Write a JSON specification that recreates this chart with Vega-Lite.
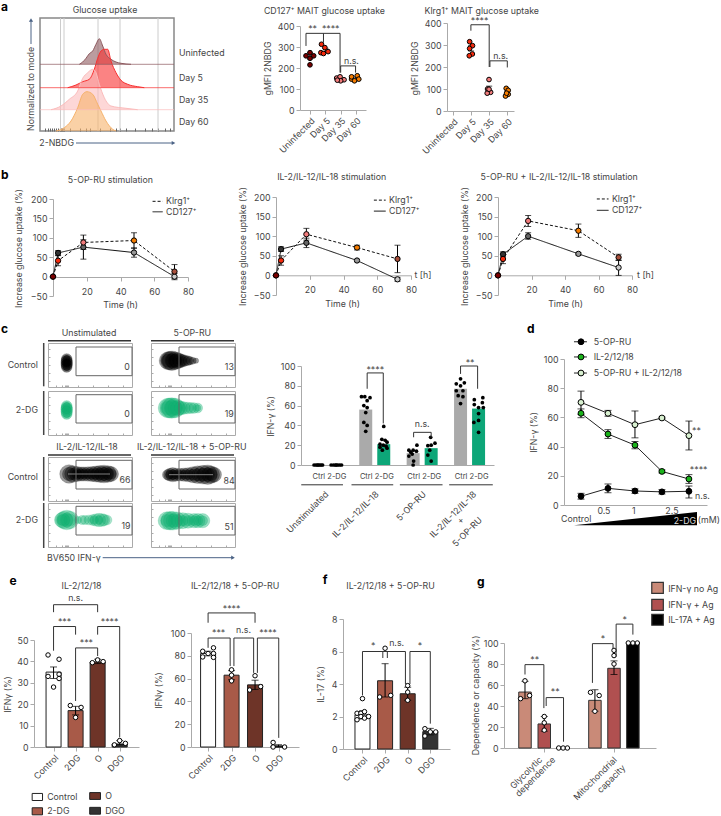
{"$schema":"https://vega.github.io/schema/vega-lite/v6.json","padding":0,"background":"white","bounds":"flush","spacing":0,
"config":{"view":{"stroke":null},"axis":{"grid":false,"domainColor":"#aaa","tickColor":"#aaa","labelColor":"#444","titleColor":"#444","labelFont":"Inter","titleFont":"Inter","labelFontSize":8.8,"titleFontSize":8.8,"titleFontWeight":"normal","titleBaseline":"middle","tickSize":4,"labelPadding":2,"labelOverlap":false,"labelFlush":false},"text":{"font":"Inter","fontSize":8.8,"color":"#444"}},
"vconcat":[
{"hconcat":[{"width":39,"height":1,"data":{"values":[]},"mark":"point","encoding":{}},{"vconcat":[{"width":1,"height":17,"data":{"values":[]},"mark":"point","encoding":{}},
{"width":134,"height":113,"view":{"stroke":"#888","strokeWidth":1.5},
"encoding":{"x":{"field":"x","type":"quantitative","scale":{"domain":[0,134],"nice":false,"zero":false},"axis":{"title":null,"labels":false,"domain":false,"tickSize":-3,"tickColor":"#666","values":[5,8,10,12,14,16,18,20,21,22,23,24,30,40,46,50,60,70,76,80,86,95,105,112,118,125,130]}},"y":{"field":"y","type":"quantitative","scale":{"domain":[0,113],"nice":false,"zero":false},"axis":null}},
"layer":[
{"data":{"values":[{"x":20.5,"y":0,"y2":113},{"x":24,"y":0,"y2":113},{"x":58,"y":0,"y2":113},{"x":80,"y":0,"y2":113},{"x":118,"y":0,"y2":113}]},"mark":{"type":"rule","color":"#ccc","strokeWidth":1},"encoding":{"y2":{"field":"y2"}}},
{"data":{"name":"hist","values":[
{"s":"Uninfected","x":39.3,"y":66.7,"y2":66.7},{"s":"Uninfected","x":42.7,"y":69,"y2":66.7},{"s":"Uninfected","x":46,"y":72.7,"y2":66.7},{"s":"Uninfected","x":49.3,"y":77.3,"y2":66.7},{"s":"Uninfected","x":52.7,"y":80,"y2":66.7},{"s":"Uninfected","x":56,"y":86.7,"y2":66.7},{"s":"Uninfected","x":59.3,"y":92.3,"y2":66.7},{"s":"Uninfected","x":62.7,"y":85,"y2":66.7},{"s":"Uninfected","x":66,"y":76.7,"y2":66.7},{"s":"Uninfected","x":71,"y":71.7,"y2":66.7},{"s":"Uninfected","x":76,"y":69,"y2":66.7},{"s":"Uninfected","x":81,"y":67.7,"y2":66.7},{"s":"Uninfected","x":91,"y":66.7,"y2":66.7},
{"s":"Day 5","x":27.7,"y":43.3,"y2":43.3},{"s":"Day 5","x":36,"y":46,"y2":43.3},{"s":"Day 5","x":42.7,"y":49.3,"y2":43.3},{"s":"Day 5","x":49.3,"y":51.7,"y2":43.3},{"s":"Day 5","x":54.3,"y":61.7,"y2":43.3},{"s":"Day 5","x":57.7,"y":72.7,"y2":43.3},{"s":"Day 5","x":61,"y":80,"y2":43.3},{"s":"Day 5","x":64.3,"y":81.7,"y2":43.3},{"s":"Day 5","x":67.7,"y":81.7,"y2":43.3},{"s":"Day 5","x":71,"y":70,"y2":43.3},{"s":"Day 5","x":76,"y":58.3,"y2":43.3},{"s":"Day 5","x":81,"y":50.7,"y2":43.3},{"s":"Day 5","x":87.7,"y":46.7,"y2":43.3},{"s":"Day 5","x":97.7,"y":44.3,"y2":43.3},{"s":"Day 5","x":104.3,"y":43.3,"y2":43.3},
{"s":"Day 35","x":11,"y":21.3,"y2":21.3},{"s":"Day 35","x":21,"y":25,"y2":21.3},{"s":"Day 35","x":29.3,"y":31.7,"y2":21.3},{"s":"Day 35","x":37.7,"y":40,"y2":21.3},{"s":"Day 35","x":42.7,"y":52.7,"y2":21.3},{"s":"Day 35","x":47.7,"y":58.3,"y2":21.3},{"s":"Day 35","x":52.7,"y":61.7,"y2":21.3},{"s":"Day 35","x":56,"y":58.3,"y2":21.3},{"s":"Day 35","x":59.3,"y":46.7,"y2":21.3},{"s":"Day 35","x":64.3,"y":33.3,"y2":21.3},{"s":"Day 35","x":71,"y":25,"y2":21.3},{"s":"Day 35","x":86,"y":22.7,"y2":21.3},{"s":"Day 35","x":97.7,"y":21.3,"y2":21.3},
{"s":"Day 60","x":16,"y":0,"y2":0},{"s":"Day 60","x":24.3,"y":3.3,"y2":0},{"s":"Day 60","x":31,"y":10,"y2":0},{"s":"Day 60","x":37.7,"y":23.3,"y2":0},{"s":"Day 60","x":42.7,"y":36.7,"y2":0},{"s":"Day 60","x":47,"y":39.3,"y2":0},{"s":"Day 60","x":52.7,"y":36.7,"y2":0},{"s":"Day 60","x":57.7,"y":26.7,"y2":0},{"s":"Day 60","x":61,"y":20,"y2":0},{"s":"Day 60","x":66,"y":10,"y2":0},{"s":"Day 60","x":72.7,"y":1.7,"y2":0},{"s":"Day 60","x":76,"y":0,"y2":0}]},
"mark":{"type":"area","orient":"vertical","interpolate":"monotone","opacity":0.6},"encoding":{"y2":{"field":"y2"},"color":{"field":"s","type":"nominal","scale":{"domain":["Uninfected","Day 5","Day 35","Day 60"],"range":["#8d5a5f","#f83030","#fbbcbc","#f6b26b"]},"legend":null}}},
{"data":{"name":"hist"},"mark":{"type":"line","interpolate":"monotone","strokeWidth":1},"encoding":{"color":{"field":"s","type":"nominal","legend":null}}},
{"data":{"values":[{"s":"Uninfected","x":0,"x2":134,"y":66.7},{"s":"Day 5","x":0,"x2":134,"y":43.3},{"s":"Day 35","x":0,"x2":134,"y":21.3}]},"mark":{"type":"rule","strokeWidth":1,"opacity":0.7},"encoding":{"x2":{"field":"x2"},"color":{"field":"s","type":"nominal","legend":null}}},
{"data":{"values":[{"x":36,"x2":132.7,"y":-12}]},"mark":{"type":"rule","color":"#4a6285","strokeWidth":1},"encoding":{"x2":{"field":"x2"}}},
{"data":{"values":[{"x":-9,"y":87,"y2":110}]},"mark":{"type":"rule","color":"#4a6285","strokeWidth":1},"encoding":{"y2":{"field":"y2"}}},
{"data":{"values":[{"x":133.5,"y":-12}]},"mark":{"type":"point","shape":"triangle-right","filled":true,"size":18,"color":"#4a6285","opacity":1}},
{"data":{"values":[{"x":-9,"y":111}]},"mark":{"type":"point","shape":"triangle-up","filled":true,"size":18,"color":"#4a6285","opacity":1}},
{"data":{"values":[{"x":65,"y":121,"t":"Glucose uptake"}]},"mark":{"type":"text"},"encoding":{"text":{"field":"t"}}},
{"data":{"values":[{"x":139,"y":78,"t":"Uninfected"},{"x":139,"y":53,"t":"Day 5"},{"x":139,"y":31,"t":"Day 35"},{"x":139,"y":9,"t":"Day 60"},{"x":-0.7,"y":-12,"t":"2-NBDG"}]},"mark":{"type":"text","align":"left"},"encoding":{"text":{"field":"t"}}},
{"data":{"values":[{"x":-9,"y":42,"t":"Normalized to mode"}]},"mark":{"type":"text","angle":270},"encoding":{"text":{"field":"t"}}},
{"data":{"values":[{"x":-39,"y":124,"t":"a"}]},"mark":{"type":"text","align":"left","fontSize":12,"fontWeight":"bold","color":"#000"},"encoding":{"text":{"field":"t"}}}
]}],"spacing":0,"bounds":"flush"}],"spacing":0,"bounds":"flush"},

{"hconcat":[{"width":299,"height":1,"data":{"values":[]},"mark":"point","encoding":{}},{"vconcat":[{"width":1,"height":25,"data":{"values":[]},"mark":"point","encoding":{}},
{"width":66,"height":84,
"encoding":{"x":{"field":"x","type":"quantitative","scale":{"domain":[-0.65,3.65],"nice":false,"zero":false},"axis":{"title":null,"values":[0,1,2,3],"labelExpr":"['Uninfected','Day 5','Day 35','Day 60'][datum.value]","labelAngle":-45,"labelAlign":"right","labelBaseline":"top"}},"y":{"field":"y","type":"quantitative","scale":{"domain":[0,400],"nice":false,"zero":false},"axis":{"title":"gMFI 2NBDG","titleX":-33,"titleY":42,"values":[0,100,200,300,400]}}},
"layer":[
{"data":{"values":[{"x":0,"lo":243,"hi":273},{"x":1,"lo":278,"hi":294},{"x":2,"lo":143,"hi":151},{"x":3,"lo":147,"hi":157}]},"mark":{"type":"errorbar","ticks":{"size":6,"color":"#000"},"rule":{"color":"#000","strokeWidth":1}},"encoding":{"y":{"field":"lo","type":"quantitative"},"y2":{"field":"hi"}}},
{"data":{"values":[{"x":-0.26,"y":258,"g":"U"},{"x":0.24,"y":258,"g":"U"},{"x":0,"y":273,"g":"U"},{"x":0,"y":246,"g":"U"},{"x":0,"y":215,"g":"U"},{"x":0.75,"y":313,"g":"D5"},{"x":0.97,"y":297,"g":"D5"},{"x":0.71,"y":273,"g":"D5"},{"x":1.18,"y":278,"g":"D5"},{"x":0.88,"y":269,"g":"D5"},{"x":1.74,"y":152,"g":"D35"},{"x":1.96,"y":158,"g":"D35"},{"x":2.22,"y":144,"g":"D35"},{"x":2.0,"y":139,"g":"D35"},{"x":1.78,"y":142,"g":"D35"},{"x":2.71,"y":147,"g":"D60"},{"x":3.08,"y":163,"g":"D60"},{"x":3.18,"y":147,"g":"D60"},{"x":2.71,"y":158,"g":"D60"},{"x":2.9,"y":139,"g":"D60"}]},"mark":{"type":"point","filled":true,"stroke":"#000","strokeWidth":1,"size":22,"opacity":1},"encoding":{"fill":{"field":"g","type":"nominal","scale":{"domain":["U","D5","D35","D60","T0","K3","K18","K48","K72","C3","C18","C48","C72","cC","cD","A","B","C","Control","2-DG","O","DGO","GA","GB","GC"],"range":["#7b0000","#f52a0c","#f27b7b","#f57c00","#7b0000","#f52a0c","#f27b7b","#f57c00","#a8503c","#333333","#666666","#999999","#cccccc","#aaaaaa","#0da678","#000000","#1ab21a","#d8f0d0","#ffffff","#a85a48","#6e3428","#333333","#c98a78","#b05050","#000000"]},"legend":null}}},
{"data":{"values":[{"b":1,"o":1,"x":-0.26,"y":305},{"b":1,"o":2,"x":-0.26,"y":365},{"b":1,"o":3,"x":1.96,"y":365},{"b":1,"o":4,"x":1.96,"y":178},{"b":2,"o":1,"x":0.88,"y":365},{"b":2,"o":2,"x":0.88,"y":321},{"b":3,"o":1,"x":2.0,"y":178},{"b":3,"o":2,"x":2.0,"y":210},{"b":3,"o":3,"x":2.97,"y":210},{"b":3,"o":4,"x":2.97,"y":178}]},"mark":{"type":"line","color":"#333","strokeWidth":1},"encoding":{"detail":{"field":"b","type":"nominal"},"order":{"field":"o","type":"quantitative"}}},
{"data":{"values":[{"x":0.17,"y":385,"t":"**"},{"x":1.35,"y":385,"t":"****"},{"x":2.7,"y":232,"t":"n.s."},{"x":0.94,"y":473,"t":"CD127⁺ MAIT glucose uptake"}]},"mark":{"type":"text"},"encoding":{"text":{"field":"t"}}}
]}],"spacing":0,"bounds":"flush"}],"spacing":0,"bounds":"flush"},

{"hconcat":[{"width":446,"height":1,"data":{"values":[]},"mark":"point","encoding":{}},{"vconcat":[{"width":1,"height":22,"data":{"values":[]},"mark":"point","encoding":{}},
{"width":67,"height":88,
"encoding":{"x":{"field":"x","type":"quantitative","scale":{"domain":[-0.33,3.37],"nice":false,"zero":false},"axis":{"title":null,"values":[0,1,2,3],"labelExpr":"['Uninfected','Day 5','Day 35','Day 60'][datum.value]","labelAngle":-45,"labelAlign":"right","labelBaseline":"top"}},"y":{"field":"y","type":"quantitative","scale":{"domain":[0,400],"nice":false,"zero":false},"axis":{"title":"gMFI 2NBDG","titleX":-33,"titleY":45,"values":[0,100,200,300,400]}}},
"layer":[
{"data":{"values":[{"x":1,"lo":273,"hi":297},{"x":2,"lo":91,"hi":113},{"x":3,"lo":77,"hi":91}]},"mark":{"type":"errorbar","ticks":{"size":6,"color":"#000"},"rule":{"color":"#000","strokeWidth":1}},"encoding":{"y":{"field":"lo","type":"quantitative"},"y2":{"field":"hi"}}},
{"data":{"values":[{"x":0.92,"y":315,"g":"D5"},{"x":1.08,"y":297,"g":"D5"},{"x":0.92,"y":284,"g":"D5"},{"x":1.07,"y":259,"g":"D5"},{"x":0.9,"y":251,"g":"D5"},{"x":1.99,"y":143,"g":"D35"},{"x":1.91,"y":100,"g":"D35"},{"x":2.08,"y":85,"g":"D35"},{"x":1.89,"y":81,"g":"D35"},{"x":1.99,"y":99,"g":"D35"},{"x":2.94,"y":103,"g":"D60"},{"x":3.05,"y":94,"g":"D60"},{"x":3.05,"y":76,"g":"D60"},{"x":2.9,"y":68,"g":"D60"},{"x":2.96,"y":81,"g":"D60"}]},"mark":{"type":"point","filled":true,"stroke":"#000","strokeWidth":1,"size":22,"opacity":1},"encoding":{"fill":{"field":"g","type":"nominal","legend":null}}},
{"data":{"values":[{"b":1,"o":1,"x":0.99,"y":365},{"b":1,"o":2,"x":0.99,"y":392},{"b":1,"o":3,"x":2.0,"y":392},{"b":1,"o":4,"x":2.0,"y":200},{"b":3,"o":1,"x":2.04,"y":200},{"b":3,"o":2,"x":2.04,"y":228},{"b":3,"o":3,"x":3.0,"y":228},{"b":3,"o":4,"x":3.0,"y":198}]},"mark":{"type":"line","color":"#333","strokeWidth":1},"encoding":{"detail":{"field":"b","type":"nominal"},"order":{"field":"o","type":"quantitative"}}},
{"data":{"values":[{"x":1.47,"y":410,"t":"****"},{"x":2.63,"y":251,"t":"n.s."},{"x":1.59,"y":456,"t":"Klrg1⁺ MAIT glucose uptake"}]},"mark":{"type":"text"},"encoding":{"text":{"field":"t"}}}
]}],"spacing":0,"bounds":"flush"}],"spacing":0,"bounds":"flush"},

{"hconcat":[{"width":52,"height":1,"data":{"values":[]},"mark":"point","encoding":{}},{"vconcat":[{"width":1,"height":198,"data":{"values":[]},"mark":"point","encoding":{}},
{"width":135,"height":97,
"encoding":{"x":{"field":"x","type":"quantitative","scale":{"domain":[0,80],"nice":false,"zero":false},"axis":{"offset":-19,"labelPadding":6,"values":[20,40,60,80],"title":"Time (h)","titleX":67,"titleY":27}},"y":{"field":"y","type":"quantitative","scale":{"domain":[-50,200],"nice":false,"zero":false},"axis":{"title":"Increase glucose uptake (%)","titleX":-35,"titleY":49,"values":[-50,0,50,100,150,200]}}},
"layer":[
{"data":{"name":"b1","values":[{"s":"CD127","x":0,"y":0,"lo":0,"hi":0,"g":"T0"},{"s":"CD127","x":3,"y":61,"lo":55,"hi":67,"g":"C3"},{"s":"CD127","x":18,"y":76,"lo":45,"hi":95,"g":"C18"},{"s":"CD127","x":48,"y":62,"lo":50,"hi":74,"g":"C48"},{"s":"CD127","x":72,"y":0,"lo":-8,"hi":8,"g":"C72"},{"s":"Klrg1","x":0,"y":0,"lo":0,"hi":0,"g":"T0"},{"s":"Klrg1","x":3,"y":41,"lo":28,"hi":54,"g":"K3"},{"s":"Klrg1","x":18,"y":88,"lo":70,"hi":107,"g":"K18"},{"s":"Klrg1","x":48,"y":93,"lo":73,"hi":113,"g":"K48"},{"s":"Klrg1","x":72,"y":13,"lo":-5,"hi":31,"g":"K72"}]},"mark":{"type":"line","color":"#111","strokeWidth":1},"encoding":{"strokeDash":{"field":"s","type":"nominal","scale":{"domain":["Klrg1","CD127"],"range":[[3,2],[1,0]]},"legend":null}}},
{"data":{"name":"b1"},"mark":{"type":"errorbar","ticks":{"size":6,"color":"#000"},"rule":{"color":"#000","strokeWidth":1}},"encoding":{"y":{"field":"lo","type":"quantitative"},"y2":{"field":"hi"}}},
{"data":{"name":"b1"},"mark":{"type":"point","filled":true,"stroke":"#000","strokeWidth":1,"size":28,"opacity":1},"encoding":{"fill":{"field":"g","type":"nominal","legend":null}}},
{"data":{"values":[{"s":"Klrg1","x":59,"y":194},{"s":"Klrg1","x":65,"y":194},{"s":"CD127","x":59,"y":167},{"s":"CD127","x":65,"y":167}]},"mark":{"type":"line","color":"#111","strokeWidth":1},"encoding":{"strokeDash":{"field":"s","type":"nominal","legend":null}}},
{"data":{"values":[{"x":67,"y":194,"t":"Klrg1⁺"},{"x":67,"y":167,"t":"CD127⁺"}]},"mark":{"type":"text","align":"left"},"encoding":{"text":{"field":"t"}}},
{"data":{"values":[{"x":34,"y":250,"t":"5-OP-RU stimulation"}]},"mark":{"type":"text"},"encoding":{"text":{"field":"t"}}},
{"data":{"values":[{"x":-30.8,"y":263,"t":"b"}]},"mark":{"type":"text","align":"left","fontSize":12,"fontWeight":"bold","color":"#000"},"encoding":{"text":{"field":"t"}}}
]}],"spacing":0,"bounds":"flush"}],"spacing":0,"bounds":"flush"},

{"hconcat":[{"width":275,"height":1,"data":{"values":[]},"mark":"point","encoding":{}},{"vconcat":[{"width":1,"height":196,"data":{"values":[]},"mark":"point","encoding":{}},
{"width":135,"height":98,
"encoding":{"x":{"field":"x","type":"quantitative","scale":{"domain":[0,80],"nice":false,"zero":false},"axis":{"offset":-19.7,"labelPadding":6,"values":[20,40,60,80],"title":"Time (h)","titleX":66,"titleY":28}},"y":{"field":"y","type":"quantitative","scale":{"domain":[-50,200],"nice":false,"zero":false},"axis":{"title":"Increase glucose uptake (%)","titleX":-34,"titleY":49,"values":[-50,0,50,100,150,200]}}},
"layer":[
{"data":{"name":"b2","values":[{"s":"CD127","x":0,"y":0,"lo":0,"hi":0,"g":"T0"},{"s":"CD127","x":3,"y":67,"lo":61,"hi":73,"g":"C3"},{"s":"CD127","x":18,"y":83,"lo":71,"hi":95,"g":"C18"},{"s":"CD127","x":48,"y":38,"lo":35,"hi":41,"g":"C48"},{"s":"CD127","x":72,"y":-10,"lo":-15,"hi":-5,"g":"C72"},{"s":"Klrg1","x":0,"y":0,"lo":0,"hi":0,"g":"T0"},{"s":"Klrg1","x":3,"y":38,"lo":26,"hi":50,"g":"K3"},{"s":"Klrg1","x":18,"y":105,"lo":90,"hi":120,"g":"K18"},{"s":"Klrg1","x":48,"y":71,"lo":65,"hi":77,"g":"K48"},{"s":"Klrg1","x":72,"y":42,"lo":7,"hi":77,"g":"K72"}]},"mark":{"type":"line","color":"#111","strokeWidth":1},"encoding":{"strokeDash":{"field":"s","type":"nominal","legend":null}}},
{"data":{"name":"b2"},"mark":{"type":"errorbar","ticks":{"size":6,"color":"#000"},"rule":{"color":"#000","strokeWidth":1}},"encoding":{"y":{"field":"lo","type":"quantitative"},"y2":{"field":"hi"}}},
{"data":{"name":"b2"},"mark":{"type":"point","filled":true,"stroke":"#000","strokeWidth":1,"size":28,"opacity":1},"encoding":{"fill":{"field":"g","type":"nominal","legend":null}}},
{"data":{"values":[{"s":"Klrg1","x":58,"y":192},{"s":"Klrg1","x":65,"y":192},{"s":"CD127","x":58,"y":164},{"s":"CD127","x":65,"y":164}]},"mark":{"type":"line","color":"#111","strokeWidth":1},"encoding":{"strokeDash":{"field":"s","type":"nominal","legend":null}}},
{"data":{"values":[{"x":67,"y":192,"t":"Klrg1⁺"},{"x":67,"y":164,"t":"CD127⁺"},{"x":82,"y":0,"t":"t [h]"}]},"mark":{"type":"text","align":"left"},"encoding":{"text":{"field":"t"}}},
{"data":{"values":[{"x":33,"y":250,"t":"IL-2/IL-12/IL-18 stimulation"}]},"mark":{"type":"text"},"encoding":{"text":{"field":"t"}}}
]}],"spacing":0,"bounds":"flush"}],"spacing":0,"bounds":"flush"},

{"hconcat":[{"width":497,"height":1,"data":{"values":[]},"mark":"point","encoding":{}},{"vconcat":[{"width":1,"height":196,"data":{"values":[]},"mark":"point","encoding":{}},
{"width":134,"height":98,
"encoding":{"x":{"field":"x","type":"quantitative","scale":{"domain":[0,80],"nice":false,"zero":false},"axis":{"offset":-19.7,"labelPadding":6,"values":[20,40,60,80],"title":"Time (h)","titleX":67,"titleY":28}},"y":{"field":"y","type":"quantitative","scale":{"domain":[-50,200],"nice":false,"zero":false},"axis":{"title":"Increase glucose uptake (%)","titleX":-34,"titleY":49,"values":[-50,0,50,100,150,200]}}},
"layer":[
{"data":{"name":"b3","values":[{"s":"CD127","x":0,"y":0,"lo":0,"hi":0,"g":"T0"},{"s":"CD127","x":3,"y":54,"lo":48,"hi":60,"g":"C3"},{"s":"CD127","x":18,"y":100,"lo":92,"hi":109,"g":"C18"},{"s":"CD127","x":48,"y":55,"lo":52,"hi":58,"g":"C48"},{"s":"CD127","x":72,"y":20,"lo":0,"hi":39,"g":"C72"},{"s":"Klrg1","x":0,"y":0,"lo":0,"hi":0,"g":"T0"},{"s":"Klrg1","x":3,"y":42,"lo":30,"hi":54,"g":"K3"},{"s":"Klrg1","x":18,"y":139,"lo":125,"hi":153,"g":"K18"},{"s":"Klrg1","x":48,"y":114,"lo":97,"hi":131,"g":"K48"},{"s":"Klrg1","x":72,"y":46,"lo":38,"hi":54,"g":"K72"}]},"mark":{"type":"line","color":"#111","strokeWidth":1},"encoding":{"strokeDash":{"field":"s","type":"nominal","legend":null}}},
{"data":{"name":"b3"},"mark":{"type":"errorbar","ticks":{"size":6,"color":"#000"},"rule":{"color":"#000","strokeWidth":1}},"encoding":{"y":{"field":"lo","type":"quantitative"},"y2":{"field":"hi"}}},
{"data":{"name":"b3"},"mark":{"type":"point","filled":true,"stroke":"#000","strokeWidth":1,"size":28,"opacity":1},"encoding":{"fill":{"field":"g","type":"nominal","legend":null}}},
{"data":{"values":[{"s":"Klrg1","x":59,"y":195},{"s":"Klrg1","x":66,"y":195},{"s":"CD127","x":59,"y":166},{"s":"CD127","x":66,"y":166}]},"mark":{"type":"line","color":"#111","strokeWidth":1},"encoding":{"strokeDash":{"field":"s","type":"nominal","legend":null}}},
{"data":{"values":[{"x":68,"y":195,"t":"Klrg1⁺"},{"x":68,"y":166,"t":"CD127⁺"},{"x":83,"y":0,"t":"t [h]"}]},"mark":{"type":"text","align":"left"},"encoding":{"text":{"field":"t"}}},
{"data":{"values":[{"x":36.5,"y":250,"t":"5-OP-RU + IL-2/IL-12/IL-18 stimulation"}]},"mark":{"type":"text"},"encoding":{"text":{"field":"t"}}}
]}],"spacing":0,"bounds":"flush"}],"spacing":0,"bounds":"flush"},

{"hconcat":[{"width":47,"height":1,"data":{"values":[]},"mark":"point","encoding":{}},{"vconcat":[{"width":1,"height":342,"data":{"values":[]},"mark":"point","encoding":{}},
{"width":84,"height":44,"view":{"stroke":"#aaa"},
"encoding":{"x":{"field":"x","type":"quantitative","scale":{"domain":[0,84],"nice":false,"zero":false},"axis":{"title":null,"labels":false,"domain":false,"tickSize":-2,"values":[8,14,17,18,19,20,30,45,60,75]}},"y":{"field":"y","type":"quantitative","scale":{"domain":[0,44],"nice":false,"zero":false},"axis":{"title":null,"labels":false,"domain":false,"tickSize":-2,"values":[6,14,22,30,38]}}},
"layer":[
{"data":{"values":[{"x":18.7,"y":28,"a":113},{"x":18.7,"y":26,"a":125},{"x":18.7,"y":24,"a":133},{"x":18.7,"y":22,"a":125},{"x":18.7,"y":20,"a":113},{"x":18.7,"y":28,"a":50},{"x":18.7,"y":24,"a":70},{"x":18.7,"y":20,"a":50},{"x":18.7,"y":24,"a":30}]},"mark":{"type":"point","filled":true,"fillOpacity":0.5,"color":"#000","stroke":"#000","strokeWidth":0.4,"strokeOpacity":0.6},"encoding":{"size":{"field":"a","type":"quantitative","scale":{"domain":[0,500],"range":[0,500]},"legend":null}}},
{"data":{"values":[{"x":28,"x2":84,"y":11.3,"y2":40}]},"mark":{"type":"rect","filled":false,"stroke":"#666","strokeWidth":1},"encoding":{"x2":{"field":"x2"},"y2":{"field":"y2"}}},
{"data":{"values":[{"x":79,"y":20,"t":"0"},{"x":41,"y":54.3,"t":"Unstimulated"}]},"mark":{"type":"text"},"encoding":{"text":{"field":"t"}}},
{"data":{"values":[{"x":-10,"y":22,"t":"Control"}]},"mark":{"type":"text","align":"right"},"encoding":{"text":{"field":"t"}}},
{"data":{"values":[{"x":0,"x2":83,"y":46.3}]},"mark":{"type":"rule","color":"#333","strokeWidth":1.5},"encoding":{"x2":{"field":"x2"}}},
{"data":{"values":[{"x":-4.3,"y":0.7,"y2":44}]},"mark":{"type":"rule","color":"#444","strokeWidth":1.5},"encoding":{"y2":{"field":"y2"}}},
{"data":{"values":[{"x":-47,"y":58,"t":"c"}]},"mark":{"type":"text","align":"left","fontSize":12,"fontWeight":"bold","color":"#000"},"encoding":{"text":{"field":"t"}}}
]}],"spacing":0,"bounds":"flush"}],"spacing":0,"bounds":"flush"},

{"hconcat":[{"width":47,"height":1,"data":{"values":[]},"mark":"point","encoding":{}},{"vconcat":[{"width":1,"height":390,"data":{"values":[]},"mark":"point","encoding":{}},
{"width":84,"height":44,"view":{"stroke":"#aaa"},
"encoding":{"x":{"field":"x","type":"quantitative","scale":{"domain":[0,84],"nice":false,"zero":false},"axis":{"title":null,"labels":false,"domain":false,"tickSize":-2,"values":[8,14,17,18,19,20,30,45,60,75]}},"y":{"field":"y","type":"quantitative","scale":{"domain":[0,44],"nice":false,"zero":false},"axis":{"title":null,"labels":false,"domain":false,"tickSize":-2,"values":[6,14,22,30,38]}}},
"layer":[
{"data":{"values":[{"x":18.7,"y":29,"a":113},{"x":18.7,"y":27,"a":125},{"x":18.7,"y":25.3,"a":133},{"x":18.7,"y":23,"a":125},{"x":18.7,"y":21,"a":113},{"x":18.7,"y":29,"a":50},{"x":18.7,"y":25.3,"a":70},{"x":18.7,"y":21,"a":50}]},"mark":{"type":"point","filled":true,"fillOpacity":0.5,"color":"#10b070","stroke":"#10b070","strokeWidth":0.4,"strokeOpacity":0.7},"encoding":{"size":{"field":"a","type":"quantitative","scale":{"domain":[0,500],"range":[0,500]},"legend":null}}},
{"data":{"values":[{"x":28,"x2":84,"y":12,"y2":40.3}]},"mark":{"type":"rect","filled":false,"stroke":"#666","strokeWidth":1},"encoding":{"x2":{"field":"x2"},"y2":{"field":"y2"}}},
{"data":{"values":[{"x":79,"y":20.7,"t":"0"}]},"mark":{"type":"text"},"encoding":{"text":{"field":"t"}}},
{"data":{"values":[{"x":-10,"y":25.3,"t":"2-DG"}]},"mark":{"type":"text","align":"right"},"encoding":{"text":{"field":"t"}}},
{"data":{"values":[{"x":-4.3,"y":0,"y2":44}]},"mark":{"type":"rule","color":"#444","strokeWidth":1.5},"encoding":{"y2":{"field":"y2"}}}
]}],"spacing":0,"bounds":"flush"}],"spacing":0,"bounds":"flush"},

{"hconcat":[{"width":150,"height":1,"data":{"values":[]},"mark":"point","encoding":{}},{"vconcat":[{"width":1,"height":342,"data":{"values":[]},"mark":"point","encoding":{}},
{"width":84,"height":44,"view":{"stroke":"#aaa"},
"encoding":{"x":{"field":"x","type":"quantitative","scale":{"domain":[0,84],"nice":false,"zero":false},"axis":{"title":null,"labels":false,"domain":false,"tickSize":-2,"values":[8,14,17,18,19,20,30,45,60,75]}},"y":{"field":"y","type":"quantitative","scale":{"domain":[0,44],"nice":false,"zero":false},"axis":{"title":null,"labels":false,"domain":false,"tickSize":-2,"values":[6,14,22,30,38]}}},
"layer":[
{"data":{"values":[{"x":17,"y":26.3,"a":314},{"x":19,"y":26.3,"a":350},{"x":21,"y":26.3,"a":380},{"x":24,"y":26.3,"a":314},{"x":17,"y":26.3,"a":177},{"x":21,"y":26.3,"a":201},{"x":24,"y":26.3,"a":177},{"x":26.7,"y":26.3,"a":254},{"x":29,"y":26.3,"a":200},{"x":31.7,"y":26.3,"a":154},{"x":34,"y":26.3,"a":120},{"x":36.7,"y":26.3,"a":95},{"x":39,"y":26.3,"a":70},{"x":41.7,"y":26.3,"a":50},{"x":45,"y":26.3,"a":28}]},"mark":{"type":"point","filled":true,"fillOpacity":0.4,"color":"#000","stroke":"#000","strokeWidth":0.3,"strokeOpacity":0.5},"encoding":{"size":{"field":"a","type":"quantitative","scale":{"domain":[0,500],"range":[0,500]},"legend":null}}},
{"data":{"values":[{"x":28,"x2":84,"y":11.3,"y2":40}]},"mark":{"type":"rect","filled":false,"stroke":"#666","strokeWidth":1},"encoding":{"x2":{"field":"x2"},"y2":{"field":"y2"}}},
{"data":{"values":[{"x":78.3,"y":20,"t":"13"},{"x":41.3,"y":54.3,"t":"5-OP-RU"}]},"mark":{"type":"text"},"encoding":{"text":{"field":"t"}}},
{"data":{"values":[{"x":0,"x2":83,"y":46.3}]},"mark":{"type":"rule","color":"#333","strokeWidth":1.5},"encoding":{"x2":{"field":"x2"}}}
]}],"spacing":0,"bounds":"flush"}],"spacing":0,"bounds":"flush"},

{"hconcat":[{"width":150,"height":1,"data":{"values":[]},"mark":"point","encoding":{}},{"vconcat":[{"width":1,"height":390,"data":{"values":[]},"mark":"point","encoding":{}},
{"width":84,"height":44,"view":{"stroke":"#aaa"},
"encoding":{"x":{"field":"x","type":"quantitative","scale":{"domain":[0,84],"nice":false,"zero":false},"axis":{"title":null,"labels":false,"domain":false,"tickSize":-2,"values":[8,14,17,18,19,20,30,45,60,75]}},"y":{"field":"y","type":"quantitative","scale":{"domain":[0,44],"nice":false,"zero":false},"axis":{"title":null,"labels":false,"domain":false,"tickSize":-2,"values":[6,14,22,30,38]}}},
"layer":[
{"data":{"values":[{"x":17,"y":27,"a":380},{"x":19,"y":27,"a":400},{"x":21,"y":27,"a":415},{"x":24,"y":27,"a":380},{"x":17,"y":27,"a":201},{"x":21,"y":27,"a":240},{"x":24,"y":27,"a":201},{"x":27,"y":27,"a":230},{"x":30,"y":27,"a":177},{"x":33,"y":27,"a":155},{"x":36.7,"y":27,"a":133},{"x":40,"y":27,"a":120},{"x":43,"y":27,"a":113},{"x":46.7,"y":27,"a":95},{"x":46.7,"y":27,"a":40}]},"mark":{"type":"point","filled":true,"fillOpacity":0.4,"color":"#10b070","stroke":"#10b070","strokeWidth":0.3,"strokeOpacity":0.7},"encoding":{"size":{"field":"a","type":"quantitative","scale":{"domain":[0,500],"range":[0,500]},"legend":null}}},
{"data":{"values":[{"x":28,"x2":84,"y":12,"y2":40.3}]},"mark":{"type":"rect","filled":false,"stroke":"#666","strokeWidth":1},"encoding":{"x2":{"field":"x2"},"y2":{"field":"y2"}}},
{"data":{"values":[{"x":78.3,"y":20.7,"t":"19"}]},"mark":{"type":"text"},"encoding":{"text":{"field":"t"}}}
]}],"spacing":0,"bounds":"flush"}],"spacing":0,"bounds":"flush"},

{"hconcat":[{"width":47,"height":1,"data":{"values":[]},"mark":"point","encoding":{}},{"vconcat":[{"width":1,"height":456,"data":{"values":[]},"mark":"point","encoding":{}},
{"width":84,"height":44,"view":{"stroke":"#aaa"},
"encoding":{"x":{"field":"x","type":"quantitative","scale":{"domain":[0,84],"nice":false,"zero":false},"axis":{"title":null,"labels":false,"domain":false,"tickSize":-2,"values":[8,14,17,18,19,20,30,45,60,75]}},"y":{"field":"y","type":"quantitative","scale":{"domain":[0,44],"nice":false,"zero":false},"axis":{"title":null,"labels":false,"domain":false,"tickSize":-2,"values":[6,14,22,30,38]}}},
"layer":[
{"data":{"values":[{"x":21,"y":27,"a":346},{"x":25,"y":27,"a":280},{"x":29,"y":27,"a":227},{"x":33,"y":27,"a":201},{"x":36,"y":27,"a":201},{"x":40,"y":27,"a":210},{"x":44,"y":27,"a":227},{"x":48,"y":27,"a":254},{"x":52,"y":27,"a":290},{"x":56,"y":27,"a":314},{"x":60,"y":27,"a":280},{"x":63,"y":27,"a":227},{"x":21,"y":27,"a":177},{"x":25,"y":27,"a":140},{"x":29,"y":27,"a":113},{"x":33,"y":27,"a":100},{"x":36,"y":27,"a":95},{"x":40,"y":27,"a":100},{"x":44,"y":27,"a":113},{"x":48,"y":27,"a":130},{"x":52,"y":27,"a":150},{"x":56,"y":27,"a":177},{"x":60,"y":27,"a":150},{"x":63,"y":27,"a":113}]},"mark":{"type":"point","filled":true,"fillOpacity":0.4,"color":"#000","stroke":"#000","strokeWidth":0.3,"strokeOpacity":0.5},"encoding":{"size":{"field":"a","type":"quantitative","scale":{"domain":[0,500],"range":[0,500]},"legend":null}}},
{"data":{"values":[{"x":20,"x2":62,"y":27}]},"mark":{"type":"rule","color":"#fff","strokeWidth":0.7,"opacity":0.7},"encoding":{"x2":{"field":"x2"}}},
{"data":{"values":[{"x":28,"x2":84,"y":12,"y2":40.7}]},"mark":{"type":"rect","filled":false,"stroke":"#666","strokeWidth":1},"encoding":{"x2":{"field":"x2"},"y2":{"field":"y2"}}},
{"data":{"values":[{"x":77,"y":20.7,"t":"66"},{"x":39,"y":54.3,"t":"IL-2/IL-12/IL-18"}]},"mark":{"type":"text"},"encoding":{"text":{"field":"t"}}},
{"data":{"values":[{"x":-10,"y":24,"t":"Control"}]},"mark":{"type":"text","align":"right"},"encoding":{"text":{"field":"t"}}},
{"data":{"values":[{"x":0,"x2":83,"y":46}]},"mark":{"type":"rule","color":"#333","strokeWidth":1.5},"encoding":{"x2":{"field":"x2"}}},
{"data":{"values":[{"x":-4.3,"y":0.3,"y2":44}]},"mark":{"type":"rule","color":"#444","strokeWidth":1.5},"encoding":{"y2":{"field":"y2"}}}
]}],"spacing":0,"bounds":"flush"}],"spacing":0,"bounds":"flush"},

{"hconcat":[{"width":47,"height":1,"data":{"values":[]},"mark":"point","encoding":{}},{"vconcat":[{"width":1,"height":502,"data":{"values":[]},"mark":"point","encoding":{}},
{"width":84,"height":44,"view":{"stroke":"#aaa"},
"encoding":{"x":{"field":"x","type":"quantitative","scale":{"domain":[0,84],"nice":false,"zero":false},"axis":{"title":null,"labels":false,"domain":false,"tickSize":-2,"values":[8,14,17,18,19,20,30,45,60,75]}},"y":{"field":"y","type":"quantitative","scale":{"domain":[0,44],"nice":false,"zero":false},"axis":{"title":null,"labels":false,"domain":false,"tickSize":-2,"values":[6,14,22,30,38]}}},
"layer":[
{"data":{"values":[{"x":14,"y":27,"a":227},{"x":16,"y":27,"a":300},{"x":18.7,"y":27,"a":380},{"x":22,"y":27,"a":300},{"x":18.7,"y":27,"a":177},{"x":14,"y":27,"a":113},{"x":16,"y":27,"a":150},{"x":22,"y":27,"a":150},{"x":30,"y":27,"a":50},{"x":34,"y":27,"a":79},{"x":37,"y":27,"a":85},{"x":41,"y":27,"a":95},{"x":45,"y":27,"a":120},{"x":48,"y":27,"a":150},{"x":51,"y":27,"a":177},{"x":54,"y":27,"a":160},{"x":56,"y":27,"a":133},{"x":59,"y":27,"a":95},{"x":51,"y":27,"a":70},{"x":46,"y":27,"a":60}]},"mark":{"type":"point","filled":true,"fillOpacity":0.35,"color":"#10b070","stroke":"#10b070","strokeWidth":0.3,"strokeOpacity":0.7},"encoding":{"size":{"field":"a","type":"quantitative","scale":{"domain":[0,500],"range":[0,500]},"legend":null}}},
{"data":{"values":[{"x":28,"x2":84,"y":12,"y2":40.7}]},"mark":{"type":"rect","filled":false,"stroke":"#666","strokeWidth":1},"encoding":{"x2":{"field":"x2"},"y2":{"field":"y2"}}},
{"data":{"values":[{"x":78,"y":21.3,"t":"19"}]},"mark":{"type":"text"},"encoding":{"text":{"field":"t"}}},
{"data":{"values":[{"x":-10,"y":27,"t":"2-DG"}]},"mark":{"type":"text","align":"right"},"encoding":{"text":{"field":"t"}}},
{"data":{"values":[{"x":-4.3,"y":-1,"y2":44}]},"mark":{"type":"rule","color":"#444","strokeWidth":1.5},"encoding":{"y2":{"field":"y2"}}},
{"data":{"values":[{"x":-1,"y":-10.7,"t":"BV650 IFN-γ"}]},"mark":{"type":"text","align":"left"},"encoding":{"text":{"field":"t"}}},
{"data":{"values":[{"x":54.7,"x2":184,"y":-10.7}]},"mark":{"type":"rule","color":"#4a6285","strokeWidth":1},"encoding":{"x2":{"field":"x2"}}},
{"data":{"values":[{"x":185,"y":-10.7}]},"mark":{"type":"point","shape":"triangle-right","filled":true,"size":18,"color":"#4a6285","opacity":1}}
]}],"spacing":0,"bounds":"flush"}],"spacing":0,"bounds":"flush"},

{"hconcat":[{"width":150,"height":1,"data":{"values":[]},"mark":"point","encoding":{}},{"vconcat":[{"width":1,"height":456,"data":{"values":[]},"mark":"point","encoding":{}},
{"width":84,"height":44,"view":{"stroke":"#aaa"},
"encoding":{"x":{"field":"x","type":"quantitative","scale":{"domain":[0,84],"nice":false,"zero":false},"axis":{"title":null,"labels":false,"domain":false,"tickSize":-2,"values":[8,14,17,18,19,20,30,45,60,75]}},"y":{"field":"y","type":"quantitative","scale":{"domain":[0,44],"nice":false,"zero":false},"axis":{"title":null,"labels":false,"domain":false,"tickSize":-2,"values":[6,14,22,30,38]}}},
"layer":[
{"data":{"values":[{"x":16.7,"y":26.3,"a":113},{"x":19,"y":26.3,"a":160},{"x":21.7,"y":26.3,"a":201},{"x":25,"y":26.3,"a":170},{"x":29,"y":26.3,"a":160},{"x":33,"y":26.3,"a":177},{"x":37,"y":26.3,"a":200},{"x":42,"y":26.3,"a":260},{"x":46.7,"y":26.3,"a":314},{"x":52,"y":26.3,"a":350},{"x":56.7,"y":26.3,"a":380},{"x":60,"y":26.3,"a":300},{"x":63,"y":26.3,"a":227},{"x":19,"y":26.3,"a":80},{"x":21.7,"y":26.3,"a":100},{"x":25,"y":26.3,"a":85},{"x":29,"y":26.3,"a":80},{"x":33,"y":26.3,"a":88},{"x":37,"y":26.3,"a":100},{"x":42,"y":26.3,"a":130},{"x":46.7,"y":26.3,"a":157},{"x":52,"y":26.3,"a":175},{"x":56.7,"y":26.3,"a":190},{"x":60,"y":26.3,"a":150}]},"mark":{"type":"point","filled":true,"fillOpacity":0.4,"color":"#000","stroke":"#000","strokeWidth":0.3,"strokeOpacity":0.5},"encoding":{"size":{"field":"a","type":"quantitative","scale":{"domain":[0,500],"range":[0,500]},"legend":null}}},
{"data":{"values":[{"x":18,"x2":62,"y":26.3}]},"mark":{"type":"rule","color":"#fff","strokeWidth":0.7,"opacity":0.7},"encoding":{"x2":{"field":"x2"}}},
{"data":{"values":[{"x":28,"x2":84,"y":12,"y2":40.7}]},"mark":{"type":"rect","filled":false,"stroke":"#666","strokeWidth":1},"encoding":{"x2":{"field":"x2"},"y2":{"field":"y2"}}},
{"data":{"values":[{"x":78,"y":20.3,"t":"84"},{"x":40.7,"y":54.3,"t":"IL-2/IL-12/IL-18 + 5-OP-RU"}]},"mark":{"type":"text"},"encoding":{"text":{"field":"t"}}},
{"data":{"values":[{"x":0,"x2":83,"y":46}]},"mark":{"type":"rule","color":"#333","strokeWidth":1.5},"encoding":{"x2":{"field":"x2"}}}
]}],"spacing":0,"bounds":"flush"}],"spacing":0,"bounds":"flush"},

{"hconcat":[{"width":150,"height":1,"data":{"values":[]},"mark":"point","encoding":{}},{"vconcat":[{"width":1,"height":502,"data":{"values":[]},"mark":"point","encoding":{}},
{"width":84,"height":44,"view":{"stroke":"#aaa"},
"encoding":{"x":{"field":"x","type":"quantitative","scale":{"domain":[0,84],"nice":false,"zero":false},"axis":{"title":null,"labels":false,"domain":false,"tickSize":-2,"values":[8,14,17,18,19,20,30,45,60,75]}},"y":{"field":"y","type":"quantitative","scale":{"domain":[0,44],"nice":false,"zero":false},"axis":{"title":null,"labels":false,"domain":false,"tickSize":-2,"values":[6,14,22,30,38]}}},
"layer":[
{"data":{"values":[{"x":16,"y":26.3,"a":314},{"x":19,"y":26.3,"a":340},{"x":21.7,"y":26.3,"a":346},{"x":26,"y":26.3,"a":300},{"x":31.7,"y":26.3,"a":254},{"x":37,"y":26.3,"a":225},{"x":43,"y":26.3,"a":201},{"x":47,"y":26.3,"a":201},{"x":51.7,"y":26.3,"a":201},{"x":16,"y":26.3,"a":150},{"x":21.7,"y":26.3,"a":177},{"x":26,"y":26.3,"a":150},{"x":31.7,"y":26.3,"a":113},{"x":37,"y":26.3,"a":105},{"x":43,"y":26.3,"a":95},{"x":47,"y":26.3,"a":95},{"x":51.7,"y":26.3,"a":95}]},"mark":{"type":"point","filled":true,"fillOpacity":0.4,"color":"#10b070","stroke":"#10b070","strokeWidth":0.3,"strokeOpacity":0.7},"encoding":{"size":{"field":"a","type":"quantitative","scale":{"domain":[0,500],"range":[0,500]},"legend":null}}},
{"data":{"values":[{"x":28,"x2":84,"y":12,"y2":40.7}]},"mark":{"type":"rect","filled":false,"stroke":"#666","strokeWidth":1},"encoding":{"x2":{"field":"x2"},"y2":{"field":"y2"}}},
{"data":{"values":[{"x":78,"y":20.3,"t":"51"}]},"mark":{"type":"text"},"encoding":{"text":{"field":"t"}}}
]}],"spacing":0,"bounds":"flush"}],"spacing":0,"bounds":"flush"},

{"hconcat":[{"width":300,"height":1,"data":{"values":[]},"mark":"point","encoding":{}},{"vconcat":[{"width":1,"height":365,"data":{"values":[]},"mark":"point","encoding":{}},
{"width":193,"height":99,
"encoding":{"x":{"field":"x","type":"quantitative","scale":{"domain":[-0.26,3.6],"nice":false,"zero":false},"axis":{"title":null,"values":[0,0.38,1,1.38,2,2.38,3,3.38],"labelExpr":"datum.value%1<0.1?'Ctrl':'2-DG'","tickSize":0,"labelPadding":7,"labelFontSize":7.5}},"y":{"field":"y","type":"quantitative","stack":null,"scale":{"domain":[0,100],"nice":false,"zero":false},"axis":{"title":"IFN-γ (%)","titleX":-31,"titleY":50,"values":[0,20,40,60,80,100]}}},
"layer":[
{"data":{"values":[{"x":0,"y":0,"c":"cC"},{"x":0.38,"y":0,"c":"cD"},{"x":1,"y":56,"c":"cC"},{"x":1.38,"y":21,"c":"cD"},{"x":2,"y":12,"c":"cC"},{"x":2.38,"y":17,"c":"cD"},{"x":3,"y":77,"c":"cC"},{"x":3.38,"y":57,"c":"cD"}]},"mark":{"type":"bar","orient":"vertical","width":13},"encoding":{"fill":{"field":"c","type":"nominal","legend":null}}},
{"data":{"values":[{"x":-0.09,"y":0},{"x":-0.05,"y":0},{"x":-0.02,"y":0},{"x":0,"y":0},{"x":0.03,"y":0},{"x":0.06,"y":0},{"x":0.09,"y":0},{"x":0.27,"y":0},{"x":0.32,"y":0},{"x":0.36,"y":0},{"x":0.38,"y":0},{"x":0.41,"y":0},{"x":0.45,"y":0},{"x":0.49,"y":0},
{"x":0.91,"y":69},{"x":0.98,"y":69},{"x":1.09,"y":68},{"x":1.03,"y":65},{"x":0.96,"y":60},{"x":1.03,"y":58},{"x":1,"y":53},{"x":0.96,"y":43},{"x":1.03,"y":40},{"x":1,"y":34},
{"x":1.38,"y":39},{"x":1.34,"y":26},{"x":1.41,"y":25},{"x":1.45,"y":23},{"x":1.3,"y":21},{"x":1.37,"y":20},{"x":1.43,"y":19},{"x":1.35,"y":15},{"x":1.45,"y":17},{"x":1.3,"y":18},
{"x":2.08,"y":20},{"x":1.91,"y":15},{"x":2,"y":15},{"x":2.07,"y":14},{"x":1.95,"y":13},{"x":2.01,"y":4},{"x":1.91,"y":9},{"x":2,"y":0},{"x":1.98,"y":11},
{"x":2.37,"y":28},{"x":2.46,"y":22},{"x":2.38,"y":20},{"x":2.31,"y":19.5},{"x":2.35,"y":15},{"x":2.31,"y":10},{"x":2.38,"y":4},
{"x":3,"y":87},{"x":3.08,"y":83},{"x":2.91,"y":82},{"x":3,"y":80},{"x":2.91,"y":75},{"x":3.05,"y":75},{"x":2.95,"y":70},{"x":3.05,"y":69},{"x":3,"y":62},
{"x":3.47,"y":68},{"x":3.29,"y":66},{"x":3.46,"y":63},{"x":3.29,"y":61},{"x":3.48,"y":58},{"x":3.38,"y":58},{"x":3.38,"y":52},{"x":3.28,"y":43},{"x":3.38,"y":45},{"x":3.38,"y":33}]},"mark":{"type":"point","filled":true,"color":"#000","size":14,"opacity":1}},
{"data":{"values":[{"b":1,"o":1,"x":1.03,"y":77},{"b":1,"o":2,"x":1.03,"y":93},{"b":1,"o":3,"x":1.37,"y":93},{"b":1,"o":4,"x":1.37,"y":42},{"b":2,"o":1,"x":2.01,"y":28},{"b":2,"o":2,"x":2.01,"y":33},{"b":2,"o":3,"x":2.38,"y":33},{"b":2,"o":4,"x":2.38,"y":28},{"b":3,"o":1,"x":3,"y":92},{"b":3,"o":2,"x":3,"y":100},{"b":3,"o":3,"x":3.36,"y":100},{"b":3,"o":4,"x":3.36,"y":77}]},"mark":{"type":"line","color":"#333","strokeWidth":1},"encoding":{"detail":{"field":"b","type":"nominal"},"order":{"field":"o","type":"quantitative"}}},
{"data":{"values":[{"x":-0.36,"x2":0.52,"y":-20},{"x":0.7,"x2":1.58,"y":-20},{"x":1.72,"x2":2.62,"y":-20},{"x":2.76,"x2":3.68,"y":-20}]},"mark":{"type":"rule","color":"#333","strokeWidth":1},"encoding":{"x2":{"field":"x2"}}},
{"data":{"values":[{"x":1.2,"y":96,"t":"****"},{"x":2.19,"y":41,"t":"n.s."},{"x":3.2,"y":103,"t":"**"}]},"mark":{"type":"text"},"encoding":{"text":{"field":"t"}}},
{"data":{"values":[{"x":0.18,"y":-28,"t":"Unstimulated"},{"x":1.24,"y":-28,"t":"IL-2/IL-12/IL-18"},{"x":2.24,"y":-28,"t":"5-OP-RU"},{"x":3.3,"y":-28,"t":"IL-2/IL-12/IL-18"},{"x":3.42,"y":-54,"t":"5-OP-RU"}]},"mark":{"type":"text","align":"right","angle":315},"encoding":{"text":{"field":"t"}}},
{"data":{"values":[{"x":3.0,"y":-56,"t":"+"}]},"mark":{"type":"text","angle":315},"encoding":{"text":{"field":"t"}}}
]}],"spacing":0,"bounds":"flush"}],"spacing":0,"bounds":"flush"},

{"hconcat":[{"width":563,"height":1,"data":{"values":[]},"mark":"point","encoding":{}},{"vconcat":[{"width":1,"height":358,"data":{"values":[]},"mark":"point","encoding":{}},
{"width":143,"height":146,
"encoding":{"x":{"field":"x","type":"quantitative","scale":{"domain":[-0.63,4.67],"nice":false,"zero":false},"axis":{"title":null,"labels":false,"ticks":false}},"y":{"field":"y","type":"quantitative","scale":{"domain":[0,100],"nice":false,"zero":false},"axis":{"title":"IFN-γ (%)","titleX":-31,"titleY":73,"values":[0,20,40,60,80,100]}}},
"layer":[
{"data":{"name":"dd","values":[{"s":"A","x":0,"y":6,"lo":4,"hi":8},{"s":"A","x":1,"y":11.4,"lo":8.4,"hi":14.4},{"s":"A","x":2,"y":9.6,"lo":8,"hi":11},{"s":"A","x":3,"y":9,"lo":7.5,"hi":10.5},{"s":"A","x":4,"y":9.4,"lo":4.8,"hi":13},
{"s":"B","x":0,"y":62.8,"lo":59.8,"hi":65.8},{"s":"B","x":1,"y":48.6,"lo":45.6,"hi":51.6},{"s":"B","x":2,"y":41,"lo":38.5,"hi":43.5},{"s":"B","x":3,"y":23,"lo":22,"hi":24},{"s":"B","x":4,"y":17.8,"lo":14.8,"hi":20.8},
{"s":"C","x":0,"y":70.3,"lo":62,"hi":78},{"s":"C","x":1,"y":62.8,"lo":60.8,"hi":64.8},{"s":"C","x":2,"y":55,"lo":46,"hi":64.4},{"s":"C","x":3,"y":59.6,"lo":59,"hi":60.2},{"s":"C","x":4,"y":47.5,"lo":37.7,"hi":57.5}]},"mark":{"type":"line","color":"#222","strokeWidth":1},"encoding":{"detail":{"field":"s","type":"nominal"}}},
{"data":{"name":"dd"},"mark":{"type":"errorbar","ticks":{"size":7,"color":"#000"},"rule":{"color":"#000","strokeWidth":1}},"encoding":{"y":{"field":"lo","type":"quantitative"},"y2":{"field":"hi"}}},
{"data":{"name":"dd"},"mark":{"type":"point","filled":true,"stroke":"#000","strokeWidth":1,"size":34,"opacity":1},"encoding":{"fill":{"field":"s","type":"nominal","legend":null}}},
{"data":{"values":[{"b":"A","x":-0.26,"y":111.8},{"b":"A","x":0.22,"y":111.8},{"b":"B","x":-0.26,"y":101.4},{"b":"B","x":0.22,"y":101.4},{"b":"C","x":-0.26,"y":90.4},{"b":"C","x":0.22,"y":90.4}]},"mark":{"type":"line","color":"#222","strokeWidth":1},"encoding":{"detail":{"field":"b","type":"nominal"}}},
{"data":{"values":[{"s":"A","x":0,"y":111.8},{"s":"B","x":0,"y":101.4},{"s":"C","x":0,"y":90.4}]},"mark":{"type":"point","filled":true,"stroke":"#000","strokeWidth":1,"size":34,"opacity":1},"encoding":{"fill":{"field":"s","type":"nominal","legend":null}}},
{"data":{"values":[{"x":0.47,"y":111.8,"t":"5-OP-RU"},{"x":0.47,"y":101.4,"t":"IL-2/12/18"},{"x":0.47,"y":90.4,"t":"5-OP-RU + IL-2/12/18"},{"x":4.33,"y":-10.3,"t":"(mM)"},{"x":-0.74,"y":-9.6,"t":"Control"}]},"mark":{"type":"text","align":"left"},"encoding":{"text":{"field":"t"}}},
{"data":{"values":[{"x":-0.26,"y":-13.9,"y2":-13.9},{"x":4.3,"y":-4.8,"y2":-13.9}]},"mark":{"type":"area","orient":"vertical","color":"#000","opacity":1},"encoding":{"y2":{"field":"y2"}}},
{"data":{"values":[{"x":0.85,"y":-4,"t":"0.5"},{"x":1.96,"y":-4,"t":"1"},{"x":3.37,"y":-4,"t":"2.5"},{"x":4.28,"y":50.9,"t":"**"},{"x":4.36,"y":24,"t":"****"},{"x":4.5,"y":6,"t":"n.s."}]},"mark":{"type":"text"},"encoding":{"text":{"field":"t"}}},
{"data":{"values":[{"x":3.85,"y":-11,"t":"2-DG"}]},"mark":{"type":"text","color":"#ddd"},"encoding":{"text":{"field":"t"}}},
{"data":{"values":[{"x":-2,"y":120.5,"t":"d"}]},"mark":{"type":"text","align":"left","fontSize":12,"fontWeight":"bold","color":"#000"},"encoding":{"text":{"field":"t"}}}
]}],"spacing":0,"bounds":"flush"}],"spacing":0,"bounds":"flush"},

{"hconcat":[{"width":33,"height":1,"data":{"values":[]},"mark":"point","encoding":{}},{"vconcat":[{"width":1,"height":639,"data":{"values":[]},"mark":"point","encoding":{}},
{"width":105,"height":107,
"encoding":{"x":{"field":"x","type":"quantitative","scale":{"domain":[-0.66,3.65],"nice":false,"zero":false},"axis":{"title":null,"values":[0,1,2,3],"labelExpr":"['Control','2DG','O','DGO'][datum.value]","labelAngle":-45,"labelAlign":"right","labelBaseline":"top"}},"y":{"field":"y","type":"quantitative","stack":null,"scale":{"domain":[0,50],"nice":false,"zero":false},"axis":{"title":"IFNγ (%)","titleX":-27,"titleY":54,"values":[0,10,20,30,40,50]}}},
"layer":[
{"data":{"name":"e1","values":[{"x":0,"y":35,"lo":32,"hi":37.4,"c":"Control"},{"x":1,"y":17,"lo":15,"hi":19,"c":"2-DG"},{"x":2,"y":39.7,"lo":39,"hi":41,"c":"O"},{"x":3,"y":1.4,"lo":1,"hi":3,"c":"DGO"}]},"mark":{"type":"bar","orient":"vertical","width":15,"stroke":"#222","strokeWidth":1},"encoding":{"fill":{"field":"c","type":"nominal","legend":null}}},
{"data":{"name":"e1"},"mark":{"type":"errorbar","ticks":{"size":7,"color":"#000"},"rule":{"color":"#000","strokeWidth":1}},"encoding":{"y":{"field":"lo","type":"quantitative"},"y2":{"field":"hi"}}},
{"data":{"values":[{"x":-0.25,"y":43},{"x":0.25,"y":41},{"x":-0.25,"y":33},{"x":0.25,"y":34},{"x":0.25,"y":32},{"x":0,"y":28},{"x":0.76,"y":19.4},{"x":1.25,"y":18.5},{"x":1,"y":13.8},{"x":1.76,"y":39.4},{"x":2,"y":40.7},{"x":2.25,"y":39.9},{"x":2.76,"y":1},{"x":3,"y":3},{"x":3.26,"y":1.7}]},"mark":{"type":"point","filled":true,"fill":"#fff","stroke":"#000","strokeWidth":1,"size":20,"opacity":1}},
{"data":{"values":[{"b":1,"o":1,"x":0,"y":63},{"b":1,"o":2,"x":0,"y":66.5},{"b":1,"o":3,"x":2,"y":66.5},{"b":1,"o":4,"x":2,"y":63},{"b":2,"o":1,"x":0,"y":45},{"b":2,"o":2,"x":0,"y":56.3},{"b":2,"o":3,"x":1,"y":56.3},{"b":2,"o":4,"x":1,"y":52.5},{"b":3,"o":1,"x":2,"y":52.5},{"b":3,"o":2,"x":2,"y":56.3},{"b":3,"o":3,"x":3,"y":56.3},{"b":3,"o":4,"x":3,"y":4.5},{"b":4,"o":1,"x":1,"y":21.5},{"b":4,"o":2,"x":1,"y":46.3},{"b":4,"o":3,"x":2,"y":46.3},{"b":4,"o":4,"x":2,"y":42.5}]},"mark":{"type":"line","color":"#333","strokeWidth":1},"encoding":{"detail":{"field":"b","type":"nominal"},"order":{"field":"o","type":"quantitative"}}},
{"data":{"values":[{"x":1,"y":69.6,"t":"n.s."},{"x":0.5,"y":58.5,"t":"***"},{"x":2.54,"y":58.5,"t":"****"},{"x":1.49,"y":48.4,"t":"***"},{"x":1.27,"y":75.2,"t":"IL-2/12/18"}]},"mark":{"type":"text"},"encoding":{"text":{"field":"t"}}},
{"data":{"values":[{"x":-0.97,"x2":-0.5,"y":-21.7,"y2":-25,"c":"Control"},{"x":-0.97,"x2":-0.5,"y":-28.4,"y2":-31.7,"c":"2-DG"},{"x":1.64,"x2":2.13,"y":-21.3,"y2":-24.5,"c":"O"},{"x":1.64,"x2":2.13,"y":-28.2,"y2":-31.4,"c":"DGO"}]},"mark":{"type":"rect","stroke":"#222","strokeWidth":1},"encoding":{"x2":{"field":"x2"},"y2":{"field":"y2"},"fill":{"field":"c","type":"nominal","legend":null}}},
{"data":{"values":[{"x":-0.29,"y":-23.4,"t":"Control"},{"x":-0.29,"y":-30,"t":"2-DG"},{"x":2.34,"y":-23,"t":"O"},{"x":2.34,"y":-29.8,"t":"DGO"}]},"mark":{"type":"text","align":"left"},"encoding":{"text":{"field":"t"}}},
{"data":{"values":[{"x":-2,"y":77.6,"t":"e"}]},"mark":{"type":"text","align":"left","fontSize":12,"fontWeight":"bold","color":"#000"},"encoding":{"text":{"field":"t"}}}
]}],"spacing":0,"bounds":"flush"}],"spacing":0,"bounds":"flush"},

{"hconcat":[{"width":190,"height":1,"data":{"values":[]},"mark":"point","encoding":{}},{"vconcat":[{"width":1,"height":632,"data":{"values":[]},"mark":"point","encoding":{}},
{"width":108,"height":114,
"encoding":{"x":{"field":"x","type":"quantitative","scale":{"domain":[-0.515,3.66],"nice":false,"zero":false},"axis":{"title":null,"values":[0,1,2,3],"labelExpr":"['Control','2DG','O','DGO'][datum.value]","labelAngle":-45,"labelAlign":"right","labelBaseline":"top"}},"y":{"field":"y","type":"quantitative","stack":null,"scale":{"domain":[0,100],"nice":false,"zero":false},"axis":{"title":"IFNγ (%)","titleX":-33,"titleY":57,"values":[0,20,40,60,80,100]}}},
"layer":[
{"data":{"name":"e2","values":[{"x":0,"y":82,"lo":80,"hi":84,"c":"Control"},{"x":1,"y":63,"lo":59,"hi":67,"c":"2-DG"},{"x":2,"y":54.5,"lo":50.5,"hi":58.6,"c":"O"},{"x":3,"y":1,"lo":0,"hi":2,"c":"DGO"}]},"mark":{"type":"bar","orient":"vertical","width":15,"stroke":"#222","strokeWidth":1},"encoding":{"fill":{"field":"c","type":"nominal","legend":null}}},
{"data":{"name":"e2"},"mark":{"type":"errorbar","ticks":{"size":7,"color":"#000"},"rule":{"color":"#000","strokeWidth":1}},"encoding":{"y":{"field":"lo","type":"quantitative"},"y2":{"field":"hi"}}},
{"data":{"values":[{"x":-0.23,"y":84},{"x":-0.23,"y":79},{"x":0,"y":82},{"x":0.23,"y":87},{"x":0.23,"y":82},{"x":0.23,"y":78.6},{"x":1,"y":67.7},{"x":1,"y":63},{"x":1,"y":58},{"x":2,"y":62.5},{"x":1.77,"y":50},{"x":2.24,"y":53},{"x":2.77,"y":4},{"x":2.77,"y":0},{"x":3.26,"y":0}]},"mark":{"type":"point","filled":true,"fill":"#fff","stroke":"#000","strokeWidth":1,"size":20,"opacity":1}},
{"data":{"values":[{"b":1,"o":1,"x":0,"y":109},{"b":1,"o":2,"x":0,"y":117.6},{"b":1,"o":3,"x":2,"y":117.6},{"b":1,"o":4,"x":2,"y":109},{"b":2,"o":1,"x":0,"y":87},{"b":2,"o":2,"x":0,"y":95.6},{"b":2,"o":3,"x":0.94,"y":95.6},{"b":2,"o":4,"x":0.94,"y":71},{"b":3,"o":1,"x":1.1,"y":71},{"b":3,"o":2,"x":1.1,"y":95.6},{"b":3,"o":3,"x":1.94,"y":95.6},{"b":3,"o":4,"x":1.94,"y":65},{"b":4,"o":1,"x":2.1,"y":65},{"b":4,"o":2,"x":2.1,"y":95.6},{"b":4,"o":3,"x":3.01,"y":95.6},{"b":4,"o":4,"x":3.01,"y":8}]},"mark":{"type":"line","color":"#333","strokeWidth":1},"encoding":{"detail":{"field":"b","type":"nominal"},"order":{"field":"o","type":"quantitative"}}},
{"data":{"values":[{"x":1,"y":121,"t":"****"},{"x":0.45,"y":100,"t":"***"},{"x":1.51,"y":103,"t":"n.s."},{"x":2.55,"y":100,"t":"****"},{"x":1.15,"y":141.5,"t":"IL-2/12/18 + 5-OP-RU"}]},"mark":{"type":"text"},"encoding":{"text":{"field":"t"}}}
]}],"spacing":0,"bounds":"flush"}],"spacing":0,"bounds":"flush"},

{"hconcat":[{"width":342,"height":1,"data":{"values":[]},"mark":"point","encoding":{}},{"vconcat":[{"width":1,"height":618,"data":{"values":[]},"mark":"point","encoding":{}},
{"width":107,"height":130,
"encoding":{"x":{"field":"x","type":"quantitative","scale":{"domain":[-0.64,3.65],"nice":false,"zero":false},"axis":{"title":null,"values":[0,1,2,3],"labelExpr":"['Control','2DG','O','DGO'][datum.value]","labelAngle":-45,"labelAlign":"right","labelBaseline":"top"}},"y":{"field":"y","type":"quantitative","stack":null,"scale":{"domain":[0,8],"nice":false,"zero":false},"axis":{"title":"IL-17 (%)","titleX":-23,"titleY":65,"values":[0,2,4,6,8]}}},
"layer":[
{"data":{"name":"ff","values":[{"x":0,"y":2.1,"lo":1.85,"hi":2.35,"c":"Control"},{"x":1,"y":4.2,"lo":3.2,"hi":5.25,"c":"2-DG"},{"x":2,"y":3.4,"lo":3,"hi":3.8,"c":"O"},{"x":3,"y":1.07,"lo":0.87,"hi":1.27,"c":"DGO"}]},"mark":{"type":"bar","orient":"vertical","width":15,"stroke":"#222","strokeWidth":1},"encoding":{"fill":{"field":"c","type":"nominal","legend":null}}},
{"data":{"name":"ff"},"mark":{"type":"errorbar","ticks":{"size":7,"color":"#000"},"rule":{"color":"#000","strokeWidth":1}},"encoding":{"y":{"field":"lo","type":"quantitative"},"y2":{"field":"hi"}}},
{"data":{"values":[{"x":0,"y":3.1},{"x":-0.24,"y":2.2},{"x":-0.07,"y":2.2},{"x":0.09,"y":2.3},{"x":-0.24,"y":1.8},{"x":-0.07,"y":2},{"x":0.09,"y":1.9},{"x":0.27,"y":2},{"x":1,"y":6.2},{"x":0.76,"y":3.2},{"x":1.25,"y":3.3},{"x":2,"y":3.9},{"x":2,"y":3.5},{"x":2,"y":3},{"x":2.76,"y":1.25},{"x":2.76,"y":0.8},{"x":3,"y":1.05},{"x":3.24,"y":1.05}]},"mark":{"type":"point","filled":true,"fill":"#fff","stroke":"#000","strokeWidth":1,"size":20,"opacity":1}},
{"data":{"values":[{"b":1,"o":1,"x":0,"y":3.3},{"b":1,"o":2,"x":0,"y":6},{"b":1,"o":3,"x":1.9,"y":6},{"b":1,"o":4,"x":1.9,"y":4},{"b":2,"o":1,"x":0.9,"y":6},{"b":2,"o":2,"x":0.9,"y":5.6},{"b":3,"o":1,"x":1.1,"y":6},{"b":3,"o":2,"x":1.1,"y":5.6},{"b":4,"o":1,"x":2.1,"y":4},{"b":4,"o":2,"x":2.1,"y":6},{"b":4,"o":3,"x":3,"y":6},{"b":4,"o":4,"x":3,"y":1.56}]},"mark":{"type":"line","color":"#333","strokeWidth":1},"encoding":{"detail":{"field":"b","type":"nominal"},"order":{"field":"o","type":"quantitative"}}},
{"data":{"values":[{"x":0.47,"y":6.35,"t":"*"},{"x":1.51,"y":6.55,"t":"n.s."},{"x":2.54,"y":6.35,"t":"*"},{"x":1.24,"y":10.05,"t":"IL-2/12/18 + 5-OP-RU"}]},"mark":{"type":"text"},"encoding":{"text":{"field":"t"}}},
{"data":{"values":[{"x":-1.76,"y":10.4,"t":"f"}]},"mark":{"type":"text","align":"left","fontSize":12,"fontWeight":"bold","color":"#000"},"encoding":{"text":{"field":"t"}}}
]}],"spacing":0,"bounds":"flush"}],"spacing":0,"bounds":"flush"},

{"hconcat":[{"width":503,"height":1,"data":{"values":[]},"mark":"point","encoding":{}},{"vconcat":[{"width":1,"height":642,"data":{"values":[]},"mark":"point","encoding":{}},
{"width":152,"height":105,
"encoding":{"x":{"field":"x","type":"quantitative","scale":{"domain":[-0.83,6.54],"nice":false,"zero":false},"axis":{"title":null,"labels":false,"values":[1,4.62]}},"y":{"field":"y","type":"quantitative","stack":null,"scale":{"domain":[0,100],"nice":false,"zero":false},"axis":{"title":"Dependence or capacity (%)","titleX":-29,"titleY":52,"values":[0,20,40,60,80,100]}}},
"layer":[
{"data":{"name":"gg","values":[{"x":0,"y":53.3,"lo":47,"hi":63.5,"c":"GA"},{"x":1,"y":22.9,"lo":16,"hi":30,"c":"GB"},{"x":3.63,"y":45.4,"lo":35,"hi":55.5,"c":"GA"},{"x":4.62,"y":75.9,"lo":70,"hi":83,"c":"GB"},{"x":5.6,"y":100,"lo":100,"hi":100,"c":"GC"}]},"mark":{"type":"bar","orient":"vertical","width":12.5,"stroke":"#333","strokeWidth":1},"encoding":{"fill":{"field":"c","type":"nominal","legend":null}}},
{"data":{"name":"gg"},"mark":{"type":"errorbar","ticks":{"size":7,"color":"#000"},"rule":{"color":"#000","strokeWidth":1}},"encoding":{"y":{"field":"lo","type":"quantitative"},"y2":{"field":"hi"}}},
{"data":{"values":[{"x":-0.23,"y":47},{"x":0,"y":64},{"x":0.24,"y":50},{"x":1,"y":30},{"x":1,"y":24},{"x":1,"y":17},{"x":1.75,"y":0},{"x":1.98,"y":0},{"x":2.2,"y":0},{"x":3.4,"y":53},{"x":3.85,"y":50},{"x":3.63,"y":35},{"x":4.62,"y":93},{"x":4.62,"y":88},{"x":4.62,"y":80},{"x":5.36,"y":100},{"x":5.6,"y":100},{"x":5.83,"y":100}]},"mark":{"type":"point","filled":true,"fill":"#fff","stroke":"#000","strokeWidth":1,"size":20,"opacity":1}},
{"data":{"values":[{"b":1,"o":1,"x":0,"y":70},{"b":1,"o":2,"x":0,"y":79.4},{"b":1,"o":3,"x":0.98,"y":79.4},{"b":1,"o":4,"x":0.98,"y":38},{"b":2,"o":1,"x":1.1,"y":40},{"b":2,"o":2,"x":1.1,"y":48},{"b":2,"o":3,"x":2,"y":48},{"b":2,"o":4,"x":2,"y":6},{"b":3,"o":1,"x":3.5,"y":62},{"b":3,"o":2,"x":3.5,"y":99.4},{"b":3,"o":3,"x":4.57,"y":99.4},{"b":3,"o":4,"x":4.57,"y":94.6},{"b":4,"o":1,"x":4.73,"y":87},{"b":4,"o":2,"x":4.73,"y":118},{"b":4,"o":3,"x":5.6,"y":118},{"b":4,"o":4,"x":5.6,"y":108}]},"mark":{"type":"line","color":"#333","strokeWidth":1},"encoding":{"detail":{"field":"b","type":"nominal"},"order":{"field":"o","type":"quantitative"}}},
{"data":{"values":[{"x":0.5,"y":84,"t":"**"},{"x":1.57,"y":53,"t":"**"},{"x":4.05,"y":104,"t":"*"},{"x":5.17,"y":122,"t":"*"}]},"mark":{"type":"text"},"encoding":{"text":{"field":"t"}}},
{"data":{"values":[{"x":0.81,"y":-9.8,"t":"Glycolytic"},{"x":1.49,"y":-9.8,"t":"dependence"},{"x":4.69,"y":-9.8,"t":"Mitochondrial"},{"x":5.13,"y":-17.4,"t":"capacity"}]},"mark":{"type":"text","align":"right","angle":315},"encoding":{"text":{"field":"t"}}},
{"data":{"values":[{"x":6.58,"x2":7.18,"y":157.8,"y2":147.3,"c":"GA"},{"x":6.58,"x2":7.18,"y":141.6,"y2":131.1,"c":"GB"},{"x":6.58,"x2":7.18,"y":127.3,"y2":116.9,"c":"GC"}]},"mark":{"type":"rect","stroke":"#333","strokeWidth":1.2},"encoding":{"x2":{"field":"x2"},"y2":{"field":"y2"},"fill":{"field":"c","type":"nominal","legend":null}}},
{"data":{"values":[{"x":7.43,"y":151.5,"t":"IFN-γ no Ag"},{"x":7.43,"y":136.5,"t":"IFN-γ + Ag"},{"x":7.43,"y":122,"t":"IL-17A + Ag"}]},"mark":{"type":"text","align":"left"},"encoding":{"text":{"field":"t"}}},
{"data":{"values":[{"x":-2.49,"y":157.8,"t":"g"}]},"mark":{"type":"text","align":"left","fontSize":12,"fontWeight":"bold","color":"#000"},"encoding":{"text":{"field":"t"}}}
]}],"spacing":0,"bounds":"flush"}],"spacing":0,"bounds":"flush"}
]}
